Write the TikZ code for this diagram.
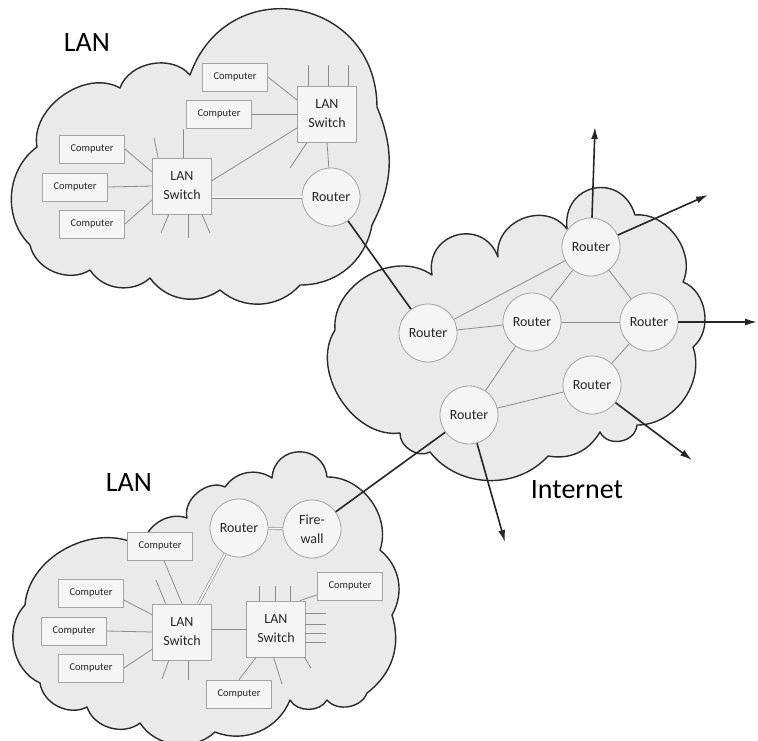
\documentclass[tikz,border=0pt]{standalone}
\usepackage{fontspec}
\setmainfont{Carlito}
\usetikzlibrary{arrows.meta}
\definecolor{cloudfill}{HTML}{EAEAEA}
\definecolor{cloudline}{HTML}{2B2B2B}
\definecolor{linkgray}{HTML}{8C8C8C}
\definecolor{nodeline}{HTML}{A3A3A3}
\definecolor{nodefill}{HTML}{F5F5F5}
\definecolor{inkdark}{HTML}{262626}

\begin{document}
\begin{tikzpicture}[x=1pt,y=-1pt,
  cloud/.style={fill=cloudfill, draw=cloudline, line width=1.4pt, line join=round},
  pc/.style={draw=nodeline, fill=nodefill, line width=0.8pt, minimum width=65pt,
    minimum height=28pt, inner sep=0pt, font=\fontsize{10.5}{12}\selectfont, text=inkdark},
  sw/.style={draw=nodeline, fill=nodefill, line width=0.8pt, minimum width=59pt,
    minimum height=56pt, inner sep=0pt, align=center, font=\fontsize{14}{19}\selectfont, text=inkdark},
  rt/.style={circle, draw=nodeline, fill=nodefill, line width=0.8pt, minimum size=58pt,
    inner sep=0pt, align=center, font=\fontsize{14}{19}\selectfont, text=inkdark},
  link/.style={draw=linkgray, line width=0.8pt},
  dlink/.style={draw=linkgray, line width=0.6pt, double=nodefill, double distance=1.8pt},
  wan/.style={draw=inkdark, line width=1.6pt},
  exit/.style={wan, -{Latex[length=12pt,width=7pt]}},
  title/.style={font=\fontsize{28}{30}\selectfont, text=black}
]
\useasboundingbox[fill=white] (0,0) rectangle (758,740);

% ---------- clouds ----------
\path[cloud] (30,245) to[bend left=50] (37,147) to[bend left=65] (120,88)
  to[bend left=60] (190,75) to[bend left=80,looseness=1.5] (377,107)
  to[bend left=25] (372,225) to[bend left=40] (300,285) to[bend left=45] (220,290)
  to[bend left=45] (150,278) to[bend left=50] (90,270) to[bend left=55] (30,245);

\path[cloud] (335,330) to[bend left=65,looseness=1.05] (432,275)
  to[bend left=85,looseness=1.6] (498,257) to[bend left=75,looseness=1.25] (567,229)
  to[bend left=85,looseness=1.7] (635,215) to[bend left=60] (683,282)
  to[bend left=60] (693,347) to[bend left=55] (637,425)
  to[bend left=75,looseness=1.2] (600,432) to[bend left=35] (548,456)
  to[bend left=50] (430,452) to[bend left=60] (400,433) to[bend left=65] (335,330);

\path[cloud] (25,605) to[bend left=60] (143,548) to[bend left=55] (187,518)
  to[bend left=65] (225,487) to[bend left=45] (272,478)
  to[bend left=85,looseness=1.6] (327,477) to[bend left=55] (380,550)
  to[bend left=40] (392,615) to[bend left=35] (367,693) to[bend left=60] (327,700)
  to[bend left=60] (290,700) to[bend left=45] (215,732) to[bend left=50] (140,723)
  to[bend left=55] (87,707) to[bend left=55] (40,683) to[bend left=55] (25,605);

% ---------- labels ----------
\node[title] (lanA) at (87,43) {LAN};
\node[title] (lanB) at (129,483) {LAN};
\node[title] (inet) at (577,490) {Internet};

% ---------- upper LAN ----------
\node[pc] (c1) at (235,77) {Computer};
\node[pc] (c2) at (219,114) {Computer};
\node[pc] (c3) at (92,149) {Computer};
\node[pc] (c4) at (75,187) {Computer};
\node[pc] (c5) at (92,224) {Computer};
\node[sw] (s1) at (182,186) {LAN\\Switch};
\node[sw] (s2) at (327,114) {LAN\\Switch};
\node[rt] (r0) at (331,197) {Router};

\coordinate (t1) at (154,138);
\coordinate (t2) at (183,129);
\coordinate (t3) at (161,233);
\coordinate (t4) at (188,238);
\coordinate (t5) at (210,233);
\coordinate (u1) at (308,65);
\coordinate (u2) at (328,65);
\coordinate (u3) at (348,65);
\coordinate (u4) at (290,168);

\draw[link] (c1.east) -- (s2.155);
\draw[link] (c2.east) -- (s2.west);
\draw[link] (c3.east) -- (s1.155);
\draw[link] (c4.east) -- (s1.west);
\draw[link] (c5.east) -- (s1.205);
\draw[link] (s1.130) -- (t1);
\draw[link] (s1.north -| t2) -- (t2);
\draw[link] (s1.-115) -- (t3);
\draw[link] (s1.south -| t4) -- (t4);
\draw[link] (s1.-55) -- (t5);
\draw[link] (s1.10) -- (s2.205);
\draw[dlink] (r0.west -| s1.east) -- (r0.west);
\draw[link] (s2.north -| u1) -- (u1);
\draw[link] (s2.north -| u2) -- (u2);
\draw[link] (s2.north -| u3) -- (u3);
\draw[link] (s2.-125) -- (u4);
\draw[link] (s2.south) -- (r0);

% ---------- Internet ----------
\node[rt] (ra) at (428,333) {Router};
\node[rt] (rb) at (532,322) {Router};
\node[rt] (rc) at (591,247) {Router};
\node[rt] (rd) at (649,322) {Router};
\node[rt] (re) at (592,385) {Router};
\node[rt] (rf) at (469,415) {Router};

\draw[link] (ra) -- (rc);
\draw[link] (ra) -- (rb);
\draw[link] (rb) -- (rd);
\draw[link] (rb) -- (rc);
\draw[link] (rc) -- (rd);
\draw[link] (rb) -- (rf);
\draw[link] (rf) -- (re);
\draw[link] (re) -- (rd);

\coordinate (x1) at (595,127);
\coordinate (x2) at (708,195);
\coordinate (x3) at (757,322);
\coordinate (x4) at (692,460);
\coordinate (x5) at (505,542);
\draw[exit] (rc) -- (x1);
\draw[exit] (rc) -- (x2);
\draw[exit] (rd) -- (x3);
\draw[exit] (re) -- (x4);
\draw[exit] (rf) -- (x5);

% ---------- lower LAN ----------
\node[rt] (rl) at (239,528) {Router};
\node[rt] (fw) at (312,529) {Fire-\\wall};
\node[pc] (d1) at (160,546) {Computer};
\node[pc] (d2) at (91,593) {Computer};
\node[pc] (d3) at (74,631) {Computer};
\node[pc] (d4) at (91,668) {Computer};
\node[pc] (d5) at (350,586) {Computer};
\node[pc] (d6) at (239,694) {Computer};
\node[sw] (sl) at (182,632) {LAN\\Switch};
\node[sw] (sr) at (276,629) {LAN\\Switch};

\coordinate (v1) at (156,580);
\coordinate (v2) at (162,679);
\coordinate (v3) at (188,680);
\coordinate (w1) at (259,586);
\coordinate (w2) at (275,586);
\coordinate (w3) at (290,586);
\coordinate (w4) at (326,613);
\coordinate (w5) at (326,624);
\coordinate (w6) at (326,633);
\coordinate (w7) at (326,642);
\coordinate (w8) at (282,684);
\coordinate (w9) at (311,668);

\draw[dlink] (rl) -- (fw);
\draw[link] (d1.-75) -- (sl.north);
\draw[link] (sl.120) -- (v1);
\draw[link] (d2.-12) -- (sl.150);
\draw[link] (d3.east) -- (sl.west);
\draw[link] (d4.east) -- (sl.210);
\draw[link] (sl.-115) -- (v2);
\draw[link] (sl.south -| v3) -- (v3);
\draw[dlink] (sl.60) -- (rl);
\draw[link] (sr.west -| sl.east) -- (sr.west);
\draw[link] (sr.north -| w1) -- (w1);
\draw[link] (sr.north -| w2) -- (w2);
\draw[link] (sr.north -| w3) -- (w3);
\draw[link] (sr.50) -- (d5.195);
\draw[link] (sr.east |- w4) -- (w4);
\draw[link] (sr.east |- w5) -- (w5);
\draw[link] (sr.east |- w6) -- (w6);
\draw[link] (sr.east |- w7) -- (w7);
\draw[link] (sr.-125) -- (d6.north);
\draw[link] (sr.-95) -- (w8);
\draw[link] (sr.-45) -- (w9);

% ---------- WAN links ----------
\draw[wan] (r0) -- (ra);
\draw[wan] (fw) -- (rf);
\end{tikzpicture}
\end{document}
